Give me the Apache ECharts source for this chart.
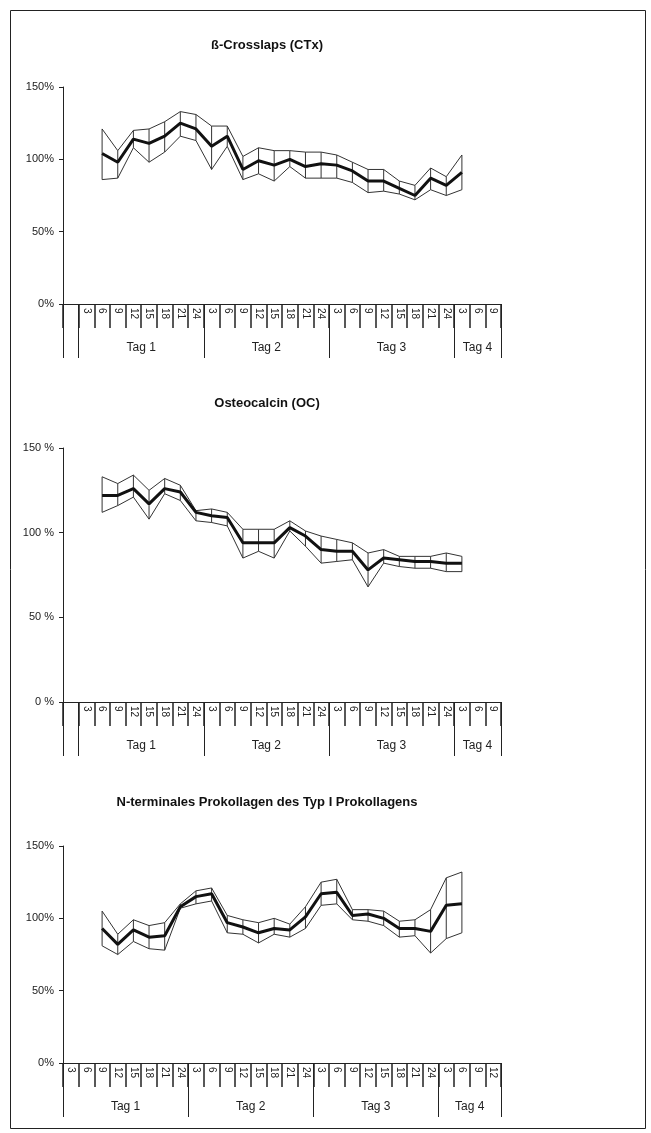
<!DOCTYPE html>
<html>
<head>
<meta charset="utf-8">
<script src="https://cdn.jsdelivr.net/npm/echarts@6/dist/echarts.min.js"></script>
<style>
  html, body { margin: 0; padding: 0; background: #fff; }
  #chart { width: 651px; height: 1133px; }
</style>
</head>
<body>
<div id="chart"></div>
<script>
// Achsenbeschriftungen
var titles = ['ß-Crosslaps (CTx)', 'Osteocalcin (OC)', 'N-terminales Prokollagen des Typ I Prokollagens'];
var dayLabels = ['Tag 1', 'Tag 2', 'Tag 3', 'Tag 4'];
var yTicks = [0, 50, 100, 150];
// Stunden je Panel (erste Kategorie bei Panel 1/2 leer)
var hours1 = ['', '3','6','9','12','15','18','21','24', '3','6','9','12','15','18','21','24', '3','6','9','12','15','18','21','24', '3','6','9'];
var hours3 = ['3','6','9','12','15','18','21','24', '3','6','9','12','15','18','21','24', '3','6','9','12','15','18','21','24', '3','6','9','12'];
// Tagesgrenzen / -mitten (in Kategorie-Einheiten)
var dayBounds1 = [0, 1, 9, 17, 25, 28];
var dayCenters1 = [5, 13, 21, 26.5];
var dayBounds3 = [0, 8, 16, 24, 28];
var dayCenters3 = [4, 12, 20, 26];

// ß-Crosslaps, ab Tag 1 6h (Index 2)
var start1 = 2;
var mean1  = [104, 98, 114, 111, 116, 125, 121, 109, 116, 93, 99, 96, 100, 95, 97, 96, 92, 85, 85, 80, 75, 87, 82, 91];
var upper1 = [121, 106, 120, 121, 126, 133, 131, 123, 123, 102, 108, 106, 106, 105, 105, 103, 98, 93, 93, 85, 82, 94, 88, 103];
var lower1 = [86, 87, 108, 98, 105, 116, 113, 93, 109, 86, 90, 85, 95, 87, 87, 87, 84, 77, 78, 76, 72, 79, 75, 79];

// Osteocalcin
var start2 = 2;
var mean2  = [122, 122, 126, 117, 126, 124, 112, 110, 109, 94, 94, 94, 103, 98, 90, 89, 89, 78, 85, 84, 83, 83, 82, 82];
var upper2 = [133, 129, 134, 125, 132, 128, 113, 114, 112, 102, 102, 102, 107, 101, 98, 96, 94, 88, 90, 86, 86, 86, 88, 86];
var lower2 = [112, 116, 121, 108, 123, 119, 107, 106, 104, 85, 89, 85, 101, 92, 82, 83, 84, 68, 82, 80, 79, 79, 77, 77];

// P1NP, ab Tag 1 9h (Index 2)
var start3 = 2;
var mean3  = [93, 82, 92, 87, 88, 108, 115, 117, 97, 94, 90, 93, 92, 101, 117, 118, 102, 103, 100, 93, 93, 91, 109, 110];
var upper3 = [105, 89, 99, 95, 97, 110, 119, 121, 102, 99, 97, 100, 96, 108, 125, 127, 106, 106, 105, 98, 99, 106, 128, 132];
var lower3 = [81, 75, 84, 79, 78, 107, 110, 112, 90, 89, 83, 89, 87, 93, 109, 110, 99, 98, 95, 87, 88, 76, 86, 90];

var FONT = 'Liberation Sans, Arial, sans-serif';
var panels = [
    { top: 87,  height: 217, hours: hours1, bounds: dayBounds1, centers: dayCenters1, start: start1, mean: mean1, upper: upper1, lower: lower1, fmt: '{value}%',  titleY: 34 },
    { top: 448, height: 254, hours: hours1, bounds: dayBounds1, centers: dayCenters1, start: start2, mean: mean2, upper: upper2, lower: lower2, fmt: '{value} %', titleY: 392 },
    { top: 846, height: 217, hours: hours3, bounds: dayBounds3, centers: dayCenters3, start: start3, mean: mean3, upper: upper3, lower: lower3, fmt: '{value}%',  titleY: 791 }
];

function pairs(start, arr) {
    return arr.map(function (v, i) { return [start + i, v]; });
}

var option = {
    animation: false,
    backgroundColor: '#fff',
    title: [], grid: [], xAxis: [], yAxis: [], series: [],
    graphic: [{
        type: 'rect',
        shape: { x: 10.5, y: 10.5, width: 635, height: 1118 },
        style: { fill: 'none', stroke: '#222', lineWidth: 1 }
    }]
};

panels.forEach(function (p, k) {
    option.title.push({
        text: titles[k], left: 262, top: p.titleY, textAlign: 'center',
        textStyle: { fontFamily: FONT, fontSize: 13, fontWeight: 'bold', color: '#111' }
    });
    option.grid.push({ left: 63, width: 438, top: p.top, height: p.height });

    // Stunden-Achse
    option.xAxis.push({
        type: 'category', gridIndex: k, data: p.hours, boundaryGap: true,
        axisLine: { show: true, lineStyle: { color: '#222', width: 1 } },
        axisTick: { show: true, length: 24, interval: 0, lineStyle: { color: '#222', width: 1.5 } },
        axisLabel: { interval: 0, rotate: -90, margin: 4, fontFamily: FONT, fontSize: 10, color: '#222' },
        splitLine: { show: false }
    });
    // Tages-Achse
    var centers = p.centers;
    option.xAxis.push({
        type: 'value', gridIndex: k, position: 'bottom', min: 0, max: 28,
        axisLine: { show: false },
        axisTick: { show: true, length: 54, customValues: p.bounds, lineStyle: { color: '#222', width: 1 } },
        axisLabel: {
            show: true, margin: 38, customValues: centers, fontFamily: FONT, fontSize: 12, color: '#222',
            formatter: function (v) { return dayLabels[centers.indexOf(v)] || ''; }
        },
        splitLine: { show: false }
    });
    option.yAxis.push({
        type: 'value', gridIndex: k, min: 0, max: 150, interval: 50,
        axisLine: { show: true, lineStyle: { color: '#222', width: 1 } },
        axisTick: { show: true, length: 4, lineStyle: { color: '#222' } },
        axisLabel: { formatter: p.fmt, margin: 9, fontFamily: FONT, fontSize: 11, color: '#222' },
        splitLine: { show: false }
    });

    var xi = k * 2;
    var band = p.upper.map(function (u, i) { return [p.start + i, p.lower[i], u]; });
    option.series.push({
        type: 'custom', xAxisIndex: xi, yAxisIndex: k, data: band,
        encode: { x: 0, y: [1, 2] },
        renderItem: function (params, api) {
            var a = api.coord([api.value(0), api.value(1)]);
            var b = api.coord([api.value(0), api.value(2)]);
            return { type: 'line', shape: { x1: a[0], y1: a[1], x2: b[0], y2: b[1] }, style: { stroke: '#333', lineWidth: 1 } };
        }
    });
    option.series.push({
        type: 'line', xAxisIndex: xi, yAxisIndex: k, data: pairs(p.start, p.upper),
        symbol: 'none', lineStyle: { color: '#333', width: 1 }
    });
    option.series.push({
        type: 'line', xAxisIndex: xi, yAxisIndex: k, data: pairs(p.start, p.lower),
        symbol: 'none', lineStyle: { color: '#333', width: 1 }
    });
    option.series.push({
        type: 'line', xAxisIndex: xi, yAxisIndex: k, data: pairs(p.start, p.mean),
        symbol: 'none', lineStyle: { color: '#111', width: 3 }, z: 5
    });
});

var chart = echarts.init(document.getElementById('chart'));
chart.setOption(option);
</script>
</body>
</html>
